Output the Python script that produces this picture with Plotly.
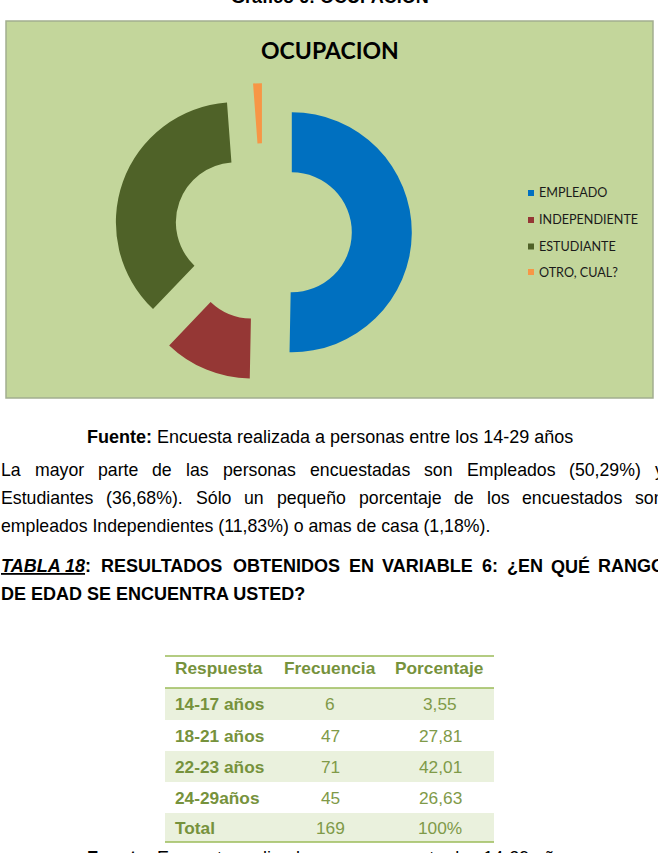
import plotly.graph_objects as go

W, H = 658, 853

# ---------------- data ----------------
categories = ["EMPLEADO", "INDEPENDIENTE", "ESTUDIANTE", "OTRO, CUAL?"]
percentages = [50.29, 11.83, 36.68, 1.18]
slice_colors = ["#0070C0", "#953735", "#4F6228", "#F79646"]

table_header = ["Respuesta", "Frecuencia", "Porcentaje"]
age_ranges = ["14-17 años", "18-21 años", "22-23 años", "24-29años", "Total"]
frequencies = ["6", "47", "71", "45", "169"]
percent_col = ["3,55", "27,81", "42,01", "26,63", "100%"]

chart_title = "OCUPACION"
caption_top = "Gráfico 6: OCUPACION"
source_label = "Fuente:"
source_text = "Encuesta realizada a personas entre los 14-29 años"
para_lines = [
    "La mayor parte de las personas encuestadas son Empleados (50,29%) y",
    "Estudiantes (36,68%). Sólo un pequeño porcentaje de los encuestados son",
]
para_last = "empleados Independientes (11,83%) o amas de casa (1,18%)."
table_title_words = ["TABLA 18:", "RESULTADOS", "OBTENIDOS", "EN", "VARIABLE", "6:", "¿EN", "QUÉ", "RANGO"]
table_title_last = "DE EDAD SE ENCUENTRA USTED?"

# ---------------- helpers ----------------
REG = {' ': 278, '(': 333, ')': 333, '%': 889, ',': 278, '-': 333, '.': 278, ':': 278, '?': 556, '¿': 611}
for c in "0123456789":
    REG[c] = 556
REG.update(dict(a=556, b=556, c=500, d=556, e=556, f=278, g=556, h=556, i=222, j=222, k=500, l=222, m=833,
                n=556, o=556, p=556, q=556, r=333, s=500, t=278, u=556, v=500, w=722, x=500, y=500, z=500))
REG.update({'ó': 556, 'ñ': 556, 'á': 556, 'é': 556})
REG.update(dict(A=667, B=667, C=722, D=722, E=667, F=611, G=778, H=722, I=278, J=500, K=667, L=556, M=833,
                N=722, O=778, P=667, Q=778, R=722, S=667, T=611, U=722, V=667, W=944, X=667, Y=667, Z=611))
REG.update({'É': 667, 'Ú': 722})
BOLD = dict(REG)
BOLD.update({':': 333, '?': 611})
BOLD.update(dict(A=722, B=722, J=556, K=722, L=611))
BOLD.update(dict(b=611, c=556, d=611, f=333, g=611, h=611, k=556, n=611, o=611, p=611, q=611, r=389, t=333,
                 u=611, v=556, y=556, i=278, j=278, l=278))


def tw(s, size, bold=False):
    tab = BOLD if bold else REG
    return sum(tab.get(ch, 556) for ch in s) * size / 1000.0


def px(x):
    return x / W


def py(y):
    return 1 - y / H


annotations = []
shapes = []


def add_text(text, x, y, size, color="#000000", xanchor="left", family="Liberation Sans, Arial"):
    annotations.append(dict(text=text, x=px(x), y=py(y), xref="paper", yref="paper",
                            xanchor=xanchor, yanchor="middle", showarrow=False,
                            font=dict(size=size, color=color, family=family), borderpad=0))


def justify(words, y, size, bold=False, left=0, right=663, render=None):
    widths = [tw(w, size, bold) for w in words]
    gap = (right - left - sum(widths)) / (len(words) - 1)
    x = left
    for i, w in enumerate(words):
        txt = render[i] if render else (f"<b>{w}</b>" if bold else w)
        add_text(txt, x, y, size)
        x += widths[i] + gap


# ---------------- chart box ----------------
shapes.append(dict(type="rect", xref="paper", yref="paper", x0=px(6), x1=px(653), y0=py(398), y1=py(21),
                   fillcolor="#C3D69B", line=dict(color="#A3AE90", width=1.5), layer="below"))

pull = 0.24
R = 120
cx, cy = 263, 232
half = R * (1 + pull)
fig = go.Figure(go.Pie(
    labels=categories, values=percentages, sort=False, direction="clockwise", rotation=0,
    hole=0.5, pull=[pull] * len(categories), textinfo="none", hoverinfo="label+percent",
    marker=dict(colors=slice_colors, line=dict(width=0)),
    domain=dict(x=[px(cx - half), px(cx + half)], y=[py(cy + half), py(cy - half)]),
    showlegend=False,
))

# chart title
add_text(f"<b>{chart_title}</b>", 330, 50, 23, family="Lato, Calibri, sans-serif", xanchor="center")

# legend
leg_y = [193, 220, 246.5, 272]
for name, col, yy in zip(categories, slice_colors, leg_y):
    shapes.append(dict(type="rect", xref="paper", yref="paper", x0=px(528), x1=px(534),
                       y0=py(yy + 3), y1=py(yy - 3), fillcolor=col, line=dict(width=0)))
    add_text(name, 538, yy, 12.6, color="#1a1a1a", family="Lato, Calibri, sans-serif")

# caption cut at top
add_text(f"<b>{caption_top}</b>", 330, -3, 18, xanchor="center")

# source line
add_text(f"<b>{source_label}</b> {source_text}", 330, 437, 18, xanchor="center")

# paragraph
FS = 17.7
justify(para_lines[0].split(" "), 470, FS)
justify(para_lines[1].split(" "), 498, FS)
add_text(para_last, 0, 526, FS)

# table title
render = ["<b><i><u>TABLA 18</u></i>:</b>"] + [f"<b>{w}</b>" for w in table_title_words[1:]]
justify(table_title_words, 566, 18, bold=True, right=664, render=render)
add_text(f"<b>{table_title_last}</b>", 0, 594, 18)

# table
TC = "#76923C"
row_top = [688, 720, 751, 782, 813]
row_h = [32, 31, 31, 31, 29]
for i, (t, hgt) in enumerate(zip(row_top, row_h)):
    if i % 2 == 0:
        shapes.append(dict(type="rect", xref="paper", yref="paper", x0=px(165), x1=px(494),
                           y0=py(t + hgt), y1=py(t), fillcolor="#EAF1DD", line=dict(width=0), layer="below"))
for yy in [656, 688, 842]:
    shapes.append(dict(type="line", xref="paper", yref="paper", x0=px(165), x1=px(494), y0=py(yy), y1=py(yy),
                       line=dict(color="#9BBB59", width=1.5)))

TFS = 17.3
add_text(f"<b>{table_header[0]}</b>", 174, 668, TFS, color=TC)
add_text(f"<b>{table_header[1]}</b>", 330, 668, TFS, color=TC, xanchor="center")
add_text(f"<b>{table_header[2]}</b>", 439, 668, TFS, color=TC, xanchor="center")
for i in range(len(age_ranges)):
    yy = row_top[i] + row_h[i] / 2
    add_text(f"<b>{age_ranges[i]}</b>", 174, yy, TFS, color=TC)
    add_text(frequencies[i], 330, yy, TFS, color="#7F9A48", xanchor="center")
    add_text(percent_col[i], 440, yy, TFS, color="#7F9A48", xanchor="center")

# source cut at bottom
add_text(f"<b>{source_label}</b> {source_text}", 330, 858, 18, xanchor="center")

fig.update_layout(width=W, height=H, margin=dict(l=0, r=0, t=0, b=0),
                  paper_bgcolor="white", plot_bgcolor="white",
                  annotations=annotations, shapes=shapes, showlegend=False)
fig.write_html("out.html")
